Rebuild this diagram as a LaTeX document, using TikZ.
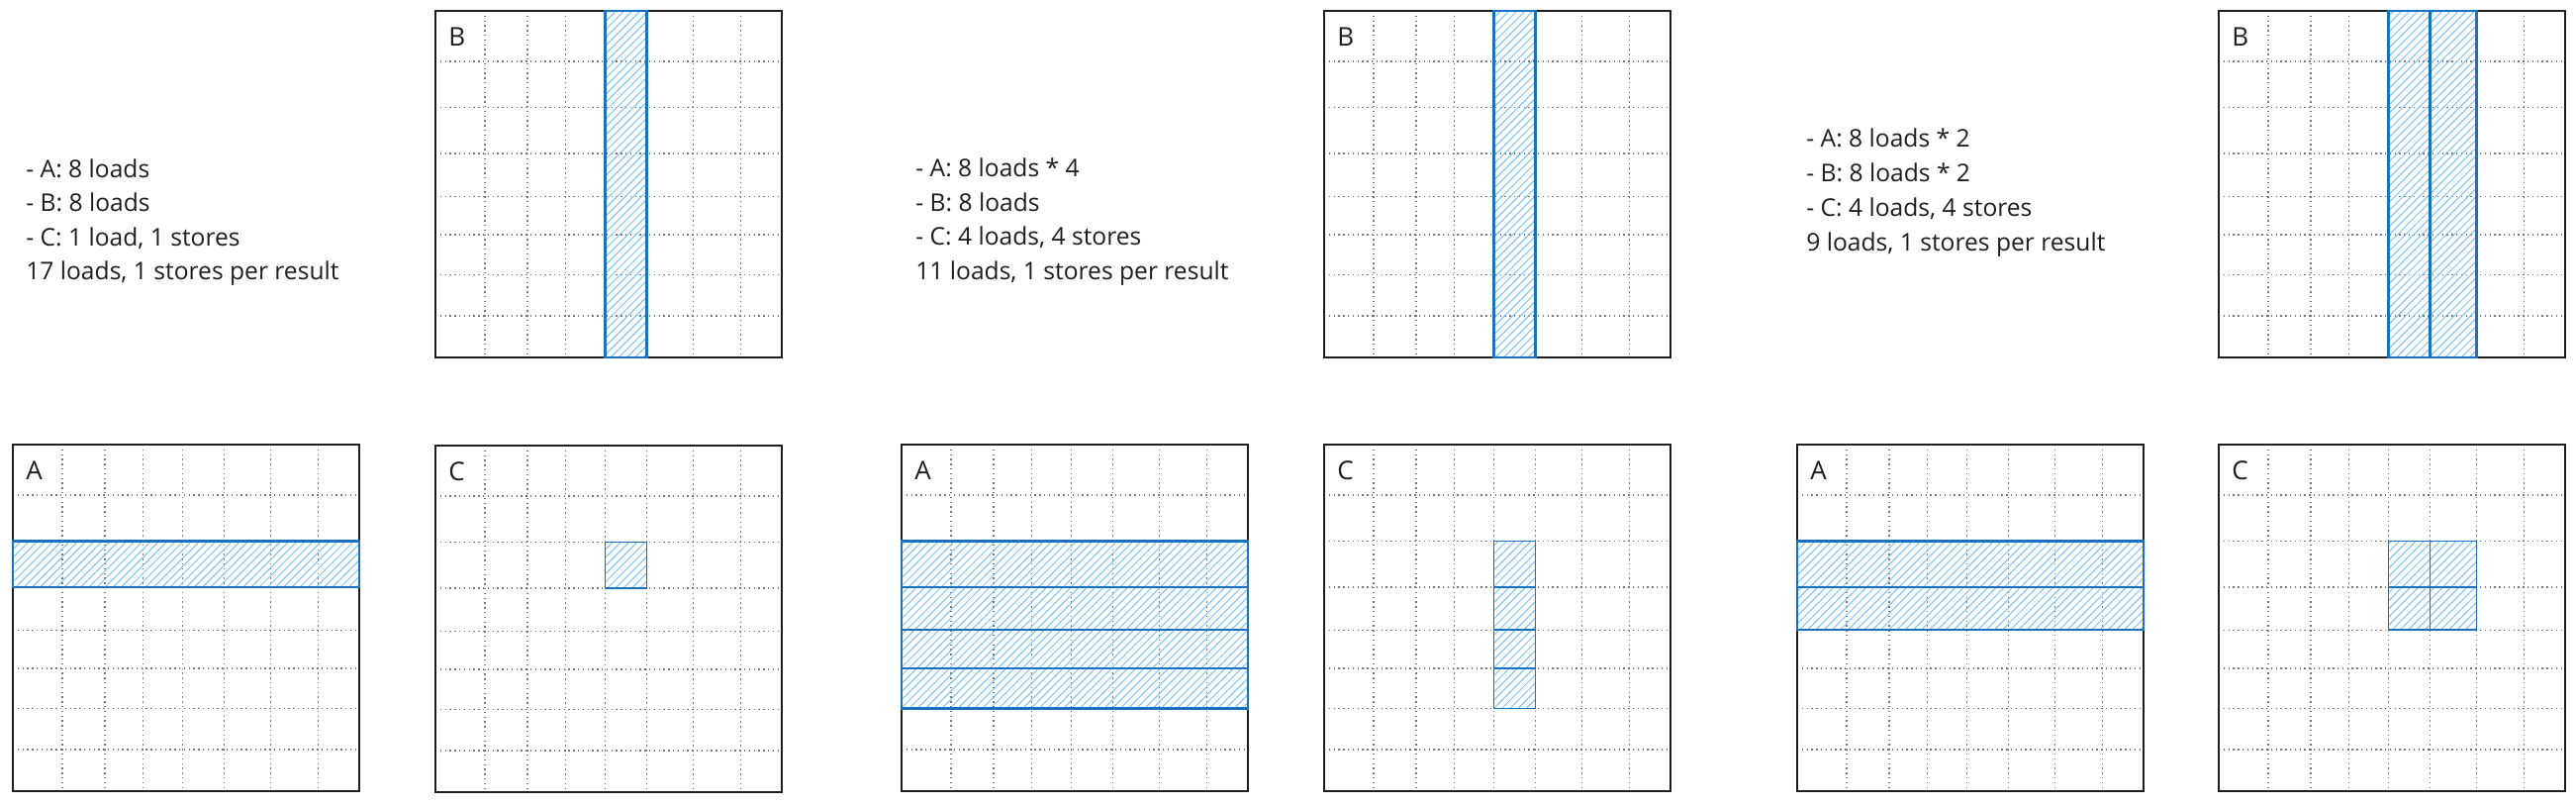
\documentclass[tikz,border=0pt]{standalone}
\usepackage{fontspec}
\setmainfont{Open Sans}
\usetikzlibrary{calc,patterns.meta}
\definecolor{ink}{HTML}{1E1E1E}
\definecolor{gridgray}{HTML}{707780}
\definecolor{hlblue}{HTML}{1971C2}
\definecolor{hatch}{HTML}{7CC2F8}
\def\xf{{0,0.143,0.265,0.376,0.49,0.61,0.744,0.882,1}}
\def\yf{{0,0.146,0.279,0.411,0.535,0.645,0.761,0.880,1}}
\tikzset{
  matsize/.style={minimum width=175pt, minimum height=175pt, inner sep=0pt, outer sep=0pt},
  matline/.style={draw=ink, line width=1.3pt},
  gridline/.style={draw=gridgray, line width=0.75pt, dash pattern=on 0.7pt off 1.7pt},
  hlbox/.style={draw=hlblue, line width=1.2pt, pattern={Lines[angle=45,distance=2.9pt,line width=0.5pt]}, pattern color=hatch},
  hlcell/.style={hlbox, line width=0.8pt},
  txt/.style={anchor=base west, inner sep=0pt, font=\fontsize{12.3}{14}\selectfont, text=ink},
  lbl/.style={txt, font=\fontsize{13}{14}\selectfont},
}
\newcommand\drawmat[4]{%
  \node[matsize] (#1) at (#2+175,#3+175) {};
  \foreach \k in {1,...,7}{
    \pgfmathsetmacro\fx{\xf[\k]*350}
    \pgfmathsetmacro\fy{\yf[\k]*350}
    \draw[gridline] ($(#1.north west)+(\fx,0)$) -- ($(#1.south west)+(\fx,0)$);
    \draw[gridline] ($(#1.north west)+(0,\fy)$) -- ($(#1.north east)+(0,\fy)$);
  }
  \draw[matline] (#1.north west) rectangle (#1.south east);
  \node[lbl] (#1-label) at ($(#1.north west)+(13,35)$) {#4};
}
\newcommand\hl[6]{%
  \pgfmathsetmacro\ha{\xf[#2]*350}
  \pgfmathsetmacro\hb{\yf[#3]*350}
  \pgfmathsetmacro\hc{\xf[#4]*350}
  \pgfmathsetmacro\hd{\yf[#5]*350}
  \draw[#6] ($(#1.north west)+(\ha,\hb)$) rectangle ($(#1.north west)+(\hc,\hd)$);
}
\begin{document}
\begin{tikzpicture}[x=0.5pt,y=-0.5pt]
\fill[white] (0,0) rectangle (2603,814);
\useasboundingbox (0,0) rectangle (2603,814);

% ---------- panel 1 ----------
\node[txt] (p1l1) at (26,179) {- A: 8 loads};
\node[txt] (p1l2) at (26,213.5) {- B: 8 loads};
\node[txt] (p1l3) at (26,248) {- C: 1 load, 1 stores};
\node[txt] (p1l4) at (26,282.5) {17 loads, 1 stores per result};
\drawmat{B1}{440}{11}{B}
\drawmat{A1}{13}{449}{A}
\drawmat{C1}{440}{450}{C}
\hl{B1}{4}{0}{5}{8}{hlbox}
\hl{A1}{0}{2}{8}{3}{hlbox}
\hl{C1}{4}{2}{5}{3}{hlcell}

% ---------- panel 2 ----------
\node[txt] (p2l1) at (925,178.5) {- A: 8 loads * 4};
\node[txt] (p2l2) at (925,213) {- B: 8 loads};
\node[txt] (p2l3) at (925,247.5) {- C: 4 loads, 4 stores};
\node[txt] (p2l4) at (925,282) {11 loads, 1 stores per result};
\drawmat{B2}{1338}{11}{B}
\drawmat{A2}{911}{449}{A}
\drawmat{C2}{1338}{449}{C}
\hl{B2}{4}{0}{5}{8}{hlbox}
\hl{A2}{0}{2}{8}{3}{hlbox}
\hl{A2}{0}{3}{8}{4}{hlbox}
\hl{A2}{0}{4}{8}{5}{hlbox}
\hl{A2}{0}{5}{8}{6}{hlbox}
\hl{C2}{4}{2}{5}{3}{hlcell}
\hl{C2}{4}{3}{5}{4}{hlcell}
\hl{C2}{4}{4}{5}{5}{hlcell}
\hl{C2}{4}{5}{5}{6}{hlcell}

% ---------- panel 3 ----------
\node[txt] (p3l1) at (1825,148) {- A: 8 loads * 2};
\node[txt] (p3l2) at (1825,183) {- B: 8 loads * 2};
\node[txt] (p3l3) at (1825,218) {- C: 4 loads, 4 stores};
\node[txt] (p3l4) at (1825,253) {9 loads, 1 stores per result};
\drawmat{B3}{2242}{11}{B}
\drawmat{A3}{1816}{449}{A}
\drawmat{C3}{2242}{449}{C}
\hl{B3}{4}{0}{5}{8}{hlbox}
\hl{B3}{5}{0}{6}{8}{hlbox}
\hl{A3}{0}{2}{8}{3}{hlbox}
\hl{A3}{0}{3}{8}{4}{hlbox}
\hl{C3}{4}{2}{5}{3}{hlcell}
\hl{C3}{5}{2}{6}{3}{hlcell}
\hl{C3}{4}{3}{5}{4}{hlcell}
\hl{C3}{5}{3}{6}{4}{hlcell}
\end{tikzpicture}
\end{document}
